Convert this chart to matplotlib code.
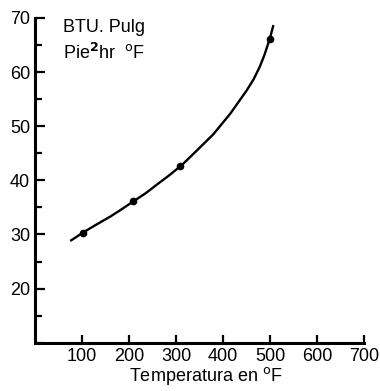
import numpy as np
import matplotlib.pyplot as plt
from matplotlib.ticker import MultipleLocator

plt.rcParams['font.family'] = ['Liberation Sans', 'DejaVu Sans']

# puntos medidos
temp_pts = [103, 209, 308, 500]
k_pts = [30.3, 36.1, 42.6, 66.2]

# curva trazada a mano
curve_t = [75, 103, 130, 160, 185, 209, 235, 259, 285, 312, 344, 379, 415, 450, 465, 478, 488, 494, 500, 507]
curve_k = [28.8, 30.4, 31.8, 33.3, 34.7, 36.1, 37.6, 39.2, 40.9, 42.8, 45.5, 48.5, 52.3, 56.6, 58.7, 61.0, 63.2, 64.8, 66.4, 68.7]

x_ticks = [100, 200, 300, 400, 500, 600, 700]
y_ticks = [20, 30, 40, 50, 60, 70]

fig = plt.figure(figsize=(3.8, 3.91), dpi=100)
ax = fig.add_axes([0.092, 0.1235, 0.8665, 0.8305])

ax.plot(curve_t, curve_k, color='black', lw=1.7, solid_capstyle='butt')
ax.plot(temp_pts, k_pts, 'o', color='black', ms=4.5)

ax.set_xlim(0, 700)
ax.set_ylim(10, 70)
ax.set_xticks(x_ticks)
ax.set_yticks(y_ticks)
ax.yaxis.set_minor_locator(MultipleLocator(5))

for s in ['top', 'right']:
    ax.spines[s].set_visible(False)
for s in ['left', 'bottom']:
    ax.spines[s].set_linewidth(2.2)

ax.tick_params(axis='both', direction='in', width=1.6, labelsize=13, colors='black')
ax.tick_params(axis='y', which='major', length=7, pad=3.5)
ax.tick_params(axis='y', which='minor', length=5, width=1.6, direction='in')
ax.tick_params(axis='x', which='major', length=6, pad=3.5)

ax.set_xlabel('Temperatura en $^{\\mathrm{o}}$F', fontsize=13)
ax.xaxis.set_label_coords(0.52, -0.07)

ax.text(0.085, 0.972, 'BTU. Pulg', transform=ax.transAxes, fontsize=13, va='center')
ax.text(0.085, 0.892, 'Pie$^{\\mathbf{2}}$hr  $^{\\mathrm{o}}$F', transform=ax.transAxes, fontsize=13, va='center')

fig.savefig('out.png', dpi=100)
